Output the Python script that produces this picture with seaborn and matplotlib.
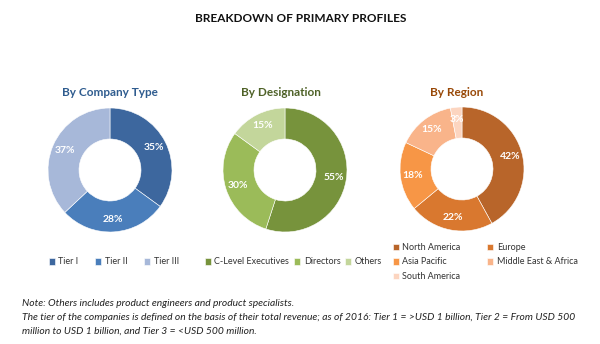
import matplotlib
matplotlib.use("Agg")
import matplotlib.pyplot as plt
import seaborn as sns

sns.set_theme(style="white")
plt.rcParams['font.family'] = ['Lato', 'DejaVu Sans']

# ---- data ----
company_labels = ["Tier I", "Tier II", "Tier III"]
company_values = [35, 28, 37]
company_colors = ["#3D679E", "#4A7EBB", "#A7B8D9"]

designation_labels = ["C-Level Executives", "Directors", "Others"]
designation_values = [55, 30, 15]
designation_colors = ["#77933C", "#9BBB59", "#C3D69B"]

region_labels = ["North America", "Europe", "Asia Pacific", "Middle East & Africa", "South America"]
region_values = [42, 22, 18, 15, 3]
region_colors = ["#B8652A", "#D9782F", "#F79646", "#F9B48A", "#FCD5C0"]

W, H = 600, 344
fig = plt.figure(figsize=(W / 100, H / 100), dpi=100)
fig.patch.set_facecolor("white")


def px_axes(cx, cy, r):
    ax = fig.add_axes([(cx - r) / W, (H - cy - r) / H, 2 * r / W, 2 * r / H])
    return ax


def donut(ax, values, colors):
    wedges, _, autotexts = ax.pie(
        values, colors=colors, startangle=90, counterclock=False,
        radius=1.0, wedgeprops=dict(width=0.5, edgecolor="white", linewidth=0.4),
        autopct="%.0f%%", pctdistance=0.8,
        textprops=dict(color="white", fontsize=7.5, fontweight="bold"))
    ax.set_xlim(-1, 1)
    ax.set_ylim(-1, 1)
    ax.set_aspect("auto")
    ax.axis("off")
    return wedges


ax1 = px_axes(110, 170, 62)
w1 = donut(ax1, company_values, company_colors)
ax2 = px_axes(285, 170, 62)
w2 = donut(ax2, designation_values, designation_colors)
ax3 = px_axes(462, 169, 62)
w3 = donut(ax3, region_values, region_colors)

# ---- titles ----
fig.text(301 / W, 1 - 18 / H, "BREAKDOWN OF PRIMARY PROFILES", ha="center", va="center",
         fontsize=8.5, fontweight="bold", color="#111111")
fig.text(110 / W, 1 - 93 / H, "By Company Type", ha="center", va="center",
         fontsize=8.5, fontweight="bold", color="#2F5C8F")
fig.text(281 / W, 1 - 93 / H, "By Designation", ha="center", va="center",
         fontsize=8.5, fontweight="bold", color="#4F6228")
fig.text(457 / W, 1 - 93 / H, "By Region", ha="center", va="center",
         fontsize=8.5, fontweight="bold", color="#984807")

# ---- legends ----
leg_kw = dict(frameon=False, fontsize=6.5, handlelength=0.7, handleheight=0.7,
              handletextpad=0.4, borderpad=0, labelcolor="#333333")
fig.legend(w1, company_labels, loc="center left", bbox_to_anchor=(44 / W, 1 - 262 / H),
           ncol=3, columnspacing=1.8, **leg_kw)
fig.legend(w2, designation_labels, loc="center left", bbox_to_anchor=(200 / W, 1 - 262 / H),
           ncol=3, columnspacing=0.5, **leg_kw)
order = [0, 2, 4, 1, 3]
fig.legend([w3[i] for i in order], [region_labels[i] for i in order], loc="center left",
           bbox_to_anchor=(388 / W, 1 - 262 / H), ncol=2, columnspacing=2.9,
           labelspacing=0.6, **leg_kw)

# ---- notes ----
note_kw = dict(ha="left", va="center", fontsize=7.4, style="italic", color="#222222")
fig.text(22 / W, 1 - 304 / H, "Note: Others includes product engineers and product specialists.", **note_kw)
fig.text(22 / W, 1 - 318 / H,
         "The tier of the companies is defined on the basis of their total revenue; as of 2016: Tier 1 = >USD 1 billion, Tier 2 = From USD 500",
         **note_kw)
fig.text(22 / W, 1 - 331 / H, "million to USD 1 billion, and Tier 3 = <USD 500 million.", **note_kw)

fig.savefig("out.png", dpi=100, facecolor="white")
